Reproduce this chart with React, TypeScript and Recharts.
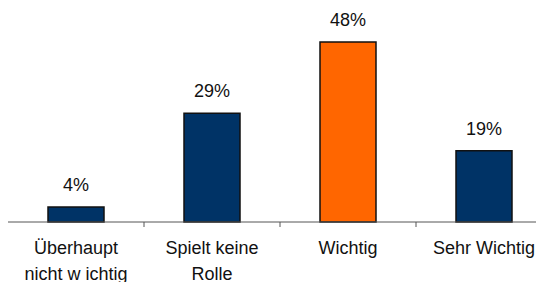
import { Bar, BarChart, Cell, LabelList, XAxis, YAxis } from "recharts";

const categories = [
  "Überhaupt\nnicht w ichtig",
  "Spielt keine\nRolle",
  "Wichtig",
  "Sehr Wichtig",
];
const shares = [4, 29, 48, 19];
const highlighted = "Wichtig";
const boundaryTicks = [0, 1, 2, 3, 4];

const data = categories.map((name, i) => ({ name, share: shares[i], pos: i + 0.5 }));

const FONT = '"Liberation Sans", Arial, Helvetica, sans-serif';

function CategoryTick(props: any) {
  const { x, y, payload } = props;
  const lines = String(payload.value).split("\n");
  return (
    <text x={x} y={y + 31} textAnchor="middle" fontSize={18} fill="#111" fontFamily={FONT}>
      {lines.map((line, i) => (
        <tspan key={i} x={x} dy={i === 0 ? 0 : 26}>
          {line}
        </tspan>
      ))}
    </text>
  );
}

export default function App() {
  return (
    <div style={{ width: 536, height: 274, overflow: "hidden" }}>
      <BarChart
        width={544}
        height={274}
        data={data}
        margin={{ top: 26.5, right: 0, bottom: 0, left: 0 }}
        style={{ fontFamily: FONT }}
      >
        <XAxis
          xAxisId="bounds"
          type="number"
          domain={[0, 4]}
          ticks={boundaryTicks}
          allowDataOverflow
          dataKey="pos"
          height={1}
          tickSize={5}
          tick={() => <g />}
          stroke="#555"
          tickLine={{ stroke: "#555" }}
          axisLine={{ stroke: "#555" }}
        />
        <XAxis
          xAxisId="cat"
          dataKey="name"
          height={59}
          interval={0}
          tickSize={0}
          tickMargin={0}
          tickLine={false}
          axisLine={false}
          tick={<CategoryTick />}
        />
        <YAxis hide domain={[0, 50]} />
        <Bar
          xAxisId="cat"
          dataKey="share"
          barSize={56}
          stroke="#111"
          strokeWidth={1.5}
          isAnimationActive={false}
        >
          {data.map((d) => (
            <Cell key={d.name} fill={d.name === highlighted ? "#FF6600" : "#003366"} />
          ))}
          <LabelList
            dataKey="share"
            position="top"
            offset={16}
            formatter={(v: any) => `${v}%`}
            fill="#111"
            fontSize={18}
            fontFamily={FONT}
          />
        </Bar>
      </BarChart>
    </div>
  );
}
